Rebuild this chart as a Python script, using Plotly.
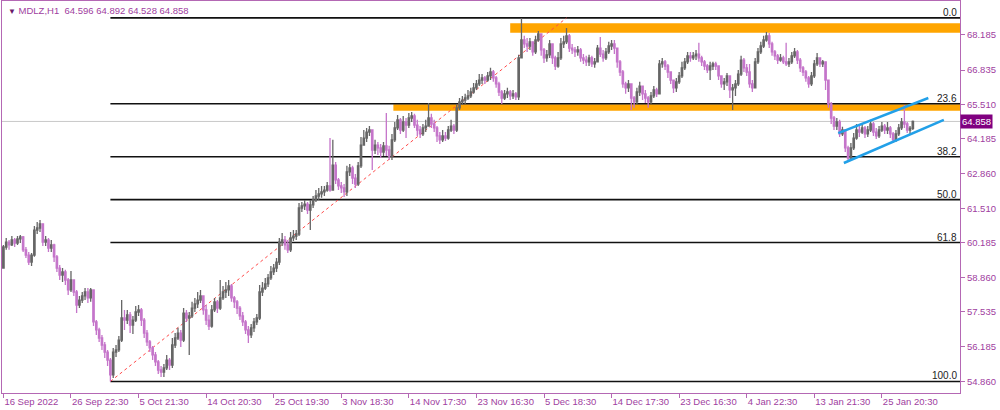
import plotly.graph_objects as go

# ---------------- data ----------------
first_open = 59.22
closes = [
    60.03, 60.22, 60.11, 60.30, 60.18, 60.34, 60.42, 59.92, 59.72, 59.45,
    59.72, 60.68, 60.76, 60.92, 60.22, 60.30, 59.99, 60.11, 59.65, 59.22,
    58.95, 59.07, 58.76, 58.38, 58.76, 58.30, 57.80, 57.99, 58.15, 58.30,
    58.07, 58.38, 57.15, 56.84, 56.53, 56.26, 55.99, 55.68, 55.11, 55.99,
    56.07, 56.45, 57.30, 57.22, 57.42, 57.03, 57.22, 57.53, 57.61, 57.22,
    56.72, 56.38, 56.15, 55.88, 55.61, 55.30, 55.22, 55.38, 55.68, 55.49,
    56.26, 56.53, 56.72, 56.45, 57.49, 57.30, 57.38, 57.68, 57.84, 57.99,
    58.15, 57.61, 57.22, 56.99, 57.61, 57.92, 57.68, 58.07, 58.30, 58.38,
    58.53, 58.07, 57.92, 57.68, 57.38, 57.15, 56.84, 56.65, 56.92, 57.15,
    57.30, 58.30, 58.45, 58.61, 58.84, 59.07, 59.22, 59.45, 60.22, 60.30,
    60.11, 59.92, 60.38, 60.45, 60.53, 61.53, 61.61, 61.68, 61.45, 61.65,
    61.84, 61.99, 62.07, 62.15, 62.22, 62.38, 62.22, 63.18, 62.61, 62.38,
    62.30, 62.15, 62.92, 63.07, 62.68, 62.45, 63.15, 63.95, 64.22, 64.45,
    64.53, 63.76, 63.95, 63.84, 63.68, 63.92, 63.76, 63.53, 64.15, 64.61,
    64.92, 64.53, 64.84, 64.72, 64.99, 65.07, 64.72, 64.53, 64.38, 64.61,
    64.68, 64.99, 64.76, 64.61, 64.30, 64.15, 64.30, 64.22, 64.53, 64.68,
    64.53, 65.38, 65.61, 65.68, 65.76, 65.84, 65.99, 66.15, 66.30, 66.45,
    66.53, 66.45, 66.61, 66.76, 66.53, 66.30, 65.99, 65.76, 65.92, 65.99,
    65.84, 65.92, 65.80, 67.30, 67.99, 67.84, 67.76, 67.92, 67.53, 67.99,
    68.22, 67.61, 67.30, 67.42, 67.84, 67.30, 66.99, 67.30, 67.84, 67.92,
    68.15, 67.68, 67.61, 67.53, 67.61, 67.30, 67.22, 67.15, 67.30, 67.07,
    67.15, 67.68, 67.45, 67.30, 67.53, 67.76, 67.84, 67.68, 67.15, 66.76,
    66.30, 66.15, 66.30, 65.76, 65.61, 65.99, 66.22, 65.92, 65.76, 65.61,
    65.84, 66.07, 65.92, 67.07, 67.15, 66.99, 66.76, 66.45, 66.15, 66.38,
    66.61, 66.92, 67.15, 67.38, 67.30, 67.38, 67.45, 67.30, 67.15, 66.99,
    66.84, 66.99, 67.07, 66.99, 66.61, 66.30, 66.38, 66.61, 66.07, 66.15,
    66.30, 66.68, 67.22, 66.92, 66.76, 66.30, 66.15, 67.15, 67.53, 67.76,
    67.99, 68.15, 67.84, 67.53, 67.38, 67.22, 67.30, 67.15, 67.07, 67.15,
    67.38, 67.53, 67.22, 66.92, 66.76, 66.53, 66.30, 66.61, 67.07, 67.30,
    67.07, 67.15, 66.45, 65.53, 64.99, 64.68, 64.84, 64.38, 64.53, 63.84,
    63.45, 63.84, 64.22, 64.53, 64.45, 64.61, 64.38, 64.53, 64.76, 64.45,
    64.30, 64.53, 64.68, 64.53, 64.61, 64.38, 64.15, 64.38, 64.61, 64.84,
    64.76, 64.53, 64.596, 64.858,
]
highs = [
    60.11, 60.38, 60.30, 60.45, 60.38, 60.45, 60.49, 60.45, 60.03, 59.84,
    59.80, 60.84, 60.99, 61.07, 60.84, 60.45, 60.38, 60.30, 60.15, 59.72,
    59.34, 59.22, 59.15, 58.84, 59.11, 58.76, 58.38, 58.15, 58.30, 58.45,
    58.45, 58.45, 58.38, 57.22, 56.92, 56.65, 56.38, 56.07, 55.76, 56.15,
    56.26, 56.61, 57.99, 57.61, 57.61, 57.53, 57.38, 57.76, 57.80, 57.68,
    57.30, 56.84, 56.45, 56.22, 55.99, 55.68, 55.45, 55.53, 55.88, 55.76,
    56.53, 56.72, 56.92, 56.84, 57.68, 57.61, 57.53, 57.92, 58.07, 58.30,
    58.38, 58.15, 57.80, 57.42, 57.80, 58.07, 57.99, 58.76, 58.53, 58.68,
    58.76, 58.61, 58.15, 57.99, 57.76, 57.53, 57.22, 56.99, 57.07, 57.30,
    57.45, 58.57, 58.68, 58.84, 58.99, 59.30, 59.38, 59.61, 60.38, 60.57,
    60.45, 60.30, 60.61, 60.68, 60.68, 61.72, 61.76, 61.84, 61.76, 61.84,
    61.99, 62.22, 62.30, 62.38, 62.38, 62.53, 64.22, 64.15, 63.30, 62.68,
    62.53, 62.45, 63.15, 63.22, 63.15, 62.84, 63.30, 64.26, 64.53, 64.61,
    64.68, 64.53, 64.15, 64.07, 63.99, 64.07, 65.18, 63.92, 64.38, 64.84,
    65.11, 64.99, 65.07, 64.99, 65.18, 65.22, 65.15, 64.92, 64.68, 64.76,
    64.92, 65.57, 65.15, 64.92, 64.68, 64.45, 64.53, 64.45, 64.68, 64.92,
    64.76, 65.53, 65.76, 65.84, 65.92, 66.07, 66.15, 66.34, 66.45, 66.68,
    66.68, 66.61, 66.76, 66.92, 66.84, 66.61, 66.38, 66.07, 66.07, 66.15,
    66.07, 66.07, 65.99, 67.42, 68.84, 68.15, 68.07, 68.07, 67.92, 68.15,
    68.34, 68.22, 67.68, 67.61, 67.99, 67.84, 67.38, 67.53, 68.07, 68.15,
    68.45, 68.22, 67.84, 67.72, 67.76, 67.68, 67.45, 67.38, 67.42, 67.38,
    67.30, 67.80, 68.11, 67.61, 67.68, 67.92, 67.99, 67.99, 67.68, 67.22,
    66.84, 66.38, 66.45, 66.30, 65.84, 66.15, 66.38, 66.22, 66.07, 65.84,
    65.99, 66.22, 66.15, 67.22, 67.30, 67.22, 67.07, 66.76, 66.45, 66.53,
    66.76, 67.15, 67.30, 67.53, 67.53, 67.53, 67.61, 67.88, 67.38, 67.22,
    67.07, 67.15, 67.15, 67.15, 66.99, 66.61, 66.53, 66.72, 66.53, 66.30,
    66.45, 66.84, 67.38, 67.30, 67.07, 67.07, 66.45, 67.30, 67.68, 67.92,
    68.15, 68.30, 68.26, 67.92, 67.61, 67.45, 67.45, 67.38, 67.88, 67.30,
    67.53, 67.68, 67.61, 67.30, 66.99, 66.84, 66.61, 66.76, 67.22, 67.49,
    67.30, 67.22, 67.15, 66.45, 65.61, 65.07, 64.99, 64.92, 64.65, 64.53,
    63.92, 64.03, 64.41, 64.76, 64.68, 64.76, 64.68, 64.68, 64.92, 64.84,
    64.61, 64.68, 64.84, 64.76, 64.84, 64.68, 64.45, 64.53, 64.76, 64.99,
    65.49, 64.84, 64.68, 64.892,
]
lows = [
    59.42, 59.92, 59.92, 60.07, 60.03, 60.11, 60.18, 59.84, 59.61, 59.34,
    59.30, 59.65, 60.53, 60.61, 60.07, 60.07, 59.84, 59.84, 59.45, 59.07,
    58.76, 58.68, 58.57, 58.18, 58.30, 58.15, 57.49, 57.68, 57.88, 57.99,
    57.88, 57.92, 56.99, 56.65, 56.38, 56.07, 55.76, 55.45, 54.86, 54.99,
    55.80, 55.99, 56.38, 56.84, 57.07, 56.72, 56.68, 57.15, 57.38, 56.99,
    56.53, 56.22, 55.99, 55.68, 55.45, 55.15, 55.03, 55.03, 55.30, 55.30,
    55.38, 56.15, 56.45, 56.18, 56.38, 57.15, 55.88, 57.30, 57.53, 57.68,
    57.88, 57.42, 57.03, 56.84, 56.92, 57.53, 57.49, 57.61, 57.99, 58.07,
    58.15, 57.92, 57.68, 57.45, 57.22, 56.99, 56.68, 56.34, 56.53, 56.76,
    57.03, 57.22, 58.15, 58.38, 58.49, 58.76, 58.95, 59.07, 59.34, 60.07,
    59.92, 59.80, 59.84, 60.26, 60.30, 60.45, 61.38, 61.45, 61.30, 60.68,
    61.53, 61.76, 61.84, 61.92, 61.99, 62.15, 62.15, 62.22, 62.45, 62.22,
    62.11, 61.95, 61.99, 62.76, 62.45, 62.30, 62.38, 63.07, 63.92, 64.07,
    64.30, 62.99, 63.61, 63.57, 63.45, 63.53, 63.53, 63.38, 63.38, 64.07,
    64.53, 64.38, 64.45, 64.22, 64.61, 64.84, 64.61, 64.30, 64.22, 64.30,
    64.45, 64.76, 64.61, 64.45, 64.07, 63.99, 64.07, 64.11, 64.15, 64.45,
    64.38, 64.45, 65.30, 65.49, 65.53, 65.68, 65.76, 65.92, 66.07, 66.22,
    66.30, 66.30, 66.38, 66.45, 66.38, 66.15, 65.84, 65.53, 65.68, 65.76,
    65.68, 65.72, 65.68, 65.68, 67.30, 67.68, 67.53, 67.61, 67.38, 67.45,
    67.92, 67.38, 67.11, 67.15, 67.30, 67.07, 66.84, 66.92, 67.22, 67.68,
    67.84, 67.53, 67.45, 67.34, 67.38, 67.15, 67.07, 66.99, 66.99, 66.95,
    66.92, 67.22, 67.34, 67.15, 67.22, 67.45, 67.61, 67.45, 66.92, 66.61,
    66.15, 65.92, 65.99, 65.30, 65.38, 65.53, 65.84, 65.68, 65.57, 65.38,
    65.53, 65.76, 65.80, 65.92, 66.92, 66.84, 66.53, 66.30, 65.95, 65.99,
    66.30, 66.53, 66.84, 67.07, 67.15, 67.22, 67.22, 67.15, 66.99, 66.84,
    66.72, 66.45, 66.84, 66.84, 66.45, 66.15, 66.07, 66.22, 65.76, 65.30,
    65.84, 66.22, 66.61, 66.76, 66.61, 66.15, 65.99, 66.15, 67.07, 67.45,
    67.68, 67.92, 67.68, 67.38, 67.22, 67.07, 67.15, 67.07, 66.99, 66.95,
    67.07, 67.30, 67.07, 66.76, 66.61, 66.38, 66.15, 66.22, 66.53, 66.99,
    66.95, 66.95, 66.07, 65.38, 64.76, 64.53, 64.53, 64.26, 64.30, 63.68,
    63.30, 63.34, 63.76, 64.15, 64.26, 64.38, 64.22, 64.26, 64.45, 64.30,
    64.18, 64.22, 64.45, 64.38, 64.38, 64.22, 64.03, 64.07, 64.30, 64.53,
    64.61, 64.41, 64.38, 64.528,
]

# bar index (H1 bars) of each candle; every candle spans two hourly bars
bar_index = list(range(0, 2 * len(closes), 2))

tick_bars = [0, 48, 96, 144, 192, 240, 288, 336, 384, 432, 480, 528, 576, 624]
tick_labels = ["16 Sep 2022", "26 Sep 22:30", "5 Oct 21:30", "14 Oct 20:30",
               "25 Oct 19:30", "3 Nov 18:30", "14 Nov 17:30", "23 Nov 16:30",
               "5 Dec 18:30", "14 Dec 17:30", "23 Dec 16:30", "4 Jan 22:30",
               "13 Jan 21:30", "25 Jan 20:30"]
price_ticks = [68.185, 66.835, 65.510, 64.185, 62.860, 61.510, 60.185,
               58.860, 57.535, 56.185, 54.860]

fib_high = 68.84
fib_low = 54.86
fib_levels = [0.0, 23.6, 38.2, 50.0, 61.8, 100.0]
fib_start_bar = 76
fib_end_bar = 400

zone_top = (360, 68.27, 68.63)      # start bar, low, high
zone_mid = (277, 65.27, 65.52)
channel_upper = [(593, 64.41), (657, 65.76)]
channel_lower = [(597, 63.26), (668, 64.92)]

last_price = 64.858
header = "MDLZ,H1  64.596 64.892 64.528 64.858"

# ---------------- figure ----------------
opens = [first_open] + closes[:-1]
highs_c = [max(h, o, c) for h, o, c in zip(highs, opens, closes)]
lows_c = [min(l, o, c) for l, o, c in zip(lows, opens, closes)]

PURPLE = "#a040a0"
AXIS = "#b468b4"
UP = "#666666"
DOWN = "#c575ca"
FONT = "Liberation Sans"

fig = go.Figure()
fig.add_trace(go.Candlestick(
    x=bar_index, open=opens, high=highs_c, low=lows_c, close=closes,
    increasing=dict(line=dict(color=UP, width=1.3), fillcolor=UP),
    decreasing=dict(line=dict(color=DOWN, width=1.3), fillcolor=DOWN),
    whiskerwidth=0, hoverinfo="skip", showlegend=False,
))

X_MIN, X_MAX = -1.0, 679.5
shapes = []
# current price line
shapes.append(dict(type="line", xref="x", yref="y", x0=X_MIN, x1=X_MAX,
                   y0=last_price, y1=last_price, layer="below",
                   line=dict(color="#c8c8c8", width=1)))
# supply / demand zones
for sb, lo, hi in (zone_top, zone_mid):
    shapes.append(dict(type="rect", xref="x", yref="y", x0=sb, x1=X_MAX,
                       y0=lo, y1=hi, fillcolor="#ffa500", line=dict(width=0),
                       layer="below"))
# fibonacci levels
annotations = []
for lv in fib_levels:
    p = fib_high - (fib_high - fib_low) * lv / 100.0
    shapes.append(dict(type="line", xref="x", yref="y", x0=fib_start_bar,
                       x1=X_MAX, y0=p, y1=p, layer="below",
                       line=dict(color="#111111", width=1.6)))
    annotations.append(dict(xref="paper", yref="y", x=0.999, y=p,
                            xanchor="right", yanchor="bottom", yshift=-2,
                            text=f"{lv:.1f}", showarrow=False,
                            font=dict(family=FONT, size=10, color="#222222")))
# fibonacci trend line (red dotted)
shapes.append(dict(type="line", xref="x", yref="y", x0=fib_start_bar,
                   y0=fib_low, x1=fib_end_bar, y1=fib_high, layer="below",
                   line=dict(color="#ff4a4a", width=1, dash="dot")))
# channel lines
for (xa, ya), (xb, yb) in (channel_upper, channel_lower):
    shapes.append(dict(type="line", xref="x", yref="y", x0=xa, y0=ya,
                       x1=xb, y1=yb, layer="above",
                       line=dict(color="#22a0e8", width=2.5)))

# header text
annotations.append(dict(xref="paper", yref="paper", x=0, y=1,
                        xanchor="left", yanchor="top", xshift=4, yshift=-2,
                        text="<span style='font-size:8px;color:#6a1a6a'>▼</span> " + header,
                        showarrow=False,
                        font=dict(family=FONT, size=9.5, color=PURPLE)))
# last price tag
annotations.append(dict(xref="paper", yref="y", x=1, y=last_price,
                        xanchor="left", yanchor="middle", xshift=0,
                        text=f"{last_price:.3f}", showarrow=False,
                        bgcolor="#800080", borderpad=1,
                        font=dict(family=FONT, size=9.5, color="white")))

fig.update_layout(
    width=1000, height=410,
    margin=dict(l=2, r=40, t=1, b=17, autoexpand=False),
    paper_bgcolor="white", plot_bgcolor="white",
    shapes=shapes, annotations=annotations,
    showlegend=False,
    xaxis=dict(range=[X_MIN, X_MAX], rangeslider=dict(visible=False),
               tickmode="array", tickvals=tick_bars, ticktext=tick_labels,
               ticks="outside", ticklen=4, tickcolor=AXIS, tickangle=0,
               ticklabelposition="outside right", automargin=False,
               tickfont=dict(family=FONT, size=9.5, color=PURPLE),
               showgrid=False, zeroline=False, showline=True,
               linecolor=AXIS, linewidth=1, mirror=True),
    yaxis=dict(range=[54.415, 69.49], side="right", automargin=False,
               tickmode="array", tickvals=price_ticks,
               ticktext=[f"{v:.3f}" for v in price_ticks],
               ticks="outside", ticklen=4, tickcolor=AXIS,
               tickfont=dict(family=FONT, size=9.5, color=PURPLE),
               showgrid=False, zeroline=False, showline=True,
               linecolor=AXIS, linewidth=1, mirror=True),
)

fig.write_html("out.html",
               config={"displayModeBar": False},
               post_script="document.body.style.margin='0px';"
                           "document.body.style.overflow='hidden';")
